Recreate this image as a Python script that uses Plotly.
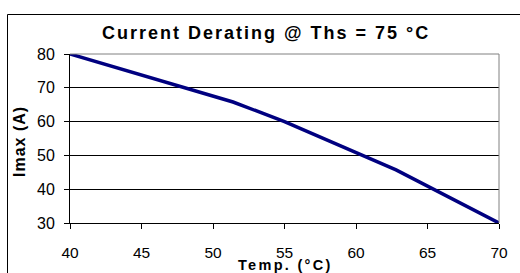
import plotly.graph_objects as go

temps = [40, 51.4, 55, 62.8, 70]
imax = [80, 65.8, 60, 45.7, 30]
x_ticks = [40, 45, 50, 55, 60, 65, 70]
y_ticks = [30, 40, 50, 60, 70, 80]
title_text = "Current Derating @ Ths = 75 °C"
x_title = "Temp. (°C)"
y_title = "Imax (A)"

W, H = 520, 273
L, R, T, B = 70, 21, 54, 50
pw, ph = W - L - R, H - T - B

def px(x):
    return (x - L) / pw

def py(y):
    return (H - B - y) / ph

font = "Arial, Liberation Sans, sans-serif"

fig = go.Figure()
fig.add_trace(go.Scatter(x=temps, y=imax, mode="lines",
                         line=dict(color="#000080", width=3.5),
                         showlegend=False, cliponaxis=False))

fig.update_layout(
    width=W, height=H,
    margin=dict(l=L, r=R, t=T, b=B),
    paper_bgcolor="white", plot_bgcolor="white",
    font=dict(family=font, color="black", size=16),
    xaxis=dict(range=[40, 70], tickvals=x_ticks, showgrid=False,
               showline=True, linecolor="black", linewidth=1,
               ticks="outside", ticklen=5, tickcolor="black",
               ticklabelstandoff=10, zeroline=False, automargin=False,
               tickfont=dict(size=15.5)),
    yaxis=dict(range=[30, 80], tickvals=y_ticks, showgrid=True,
               gridcolor="black", gridwidth=1,
               showline=True, linecolor="black", linewidth=1,
               ticks="outside", ticklen=5, tickcolor="black",
               ticklabelstandoff=6, zeroline=False, automargin=False,
               tickfont=dict(size=16)),
    shapes=[
        dict(type="line", xref="paper", yref="paper", x0=0, x1=1, y0=1, y1=1,
             line=dict(color="#808080", width=1)),
        dict(type="line", xref="paper", yref="paper", x0=1, x1=1, y0=0, y1=1,
             line=dict(color="#808080", width=1)),
        dict(type="rect", xref="paper", yref="paper",
             x0=px(7.5), x1=px(560), y0=py(14.5), y1=py(300),
             line=dict(color="black", width=1)),
    ],
    annotations=[
        dict(text='<b><span style="letter-spacing:2px">' + title_text + '</span></b>',
             xref="paper", yref="paper", x=px(266), y=py(33),
             xanchor="center", yanchor="middle", showarrow=False,
             font=dict(size=18)),
        dict(text='<b><span style="letter-spacing:2.3px">' + x_title + '</span></b>',
             xref="paper", yref="paper", x=px(285), y=py(265),
             xanchor="center", yanchor="middle", showarrow=False,
             font=dict(size=14.5)),
        dict(text='<b><span style="letter-spacing:1px">' + y_title + '</span></b>',
             xref="paper", yref="paper", x=px(19), y=py(142),
             xanchor="center", yanchor="middle", showarrow=False,
             textangle=-90, font=dict(size=16)),
    ],
)

fig.write_html("out.html",
               config={"displayModeBar": False},
               post_script="document.body.style.margin='0';document.body.style.padding='0';")
